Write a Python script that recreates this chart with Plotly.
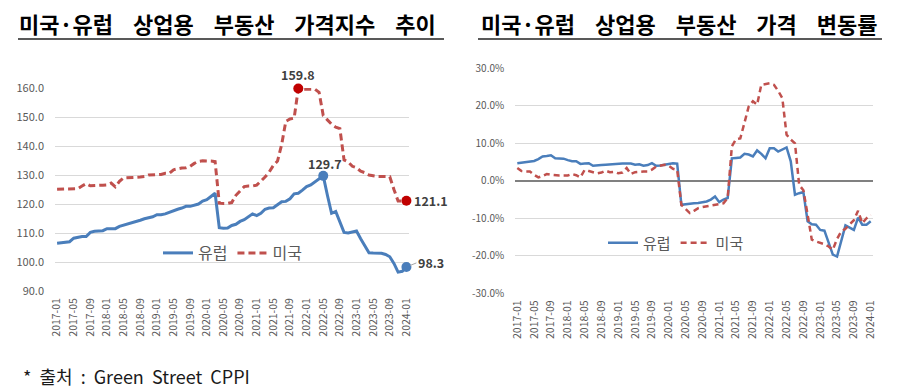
import plotly.graph_objects as go

# ---------------- data ----------------
months = [f"{y}-{m:02d}" for y in range(2017, 2025) for m in range(1, 13)][:85]  # 2017-01 .. 2024-01
tick_labels = months[::4]

# Price index (left)
europe_index = [
    106.5, 106.6, 106.9, 107.0, 108.2, 108.6, 108.8, 108.8, 110.2, 110.6,
    110.8, 110.8, 111.5, 111.5, 111.5, 112.3, 112.7, 113.0, 113.6, 113.8,
    114.4, 114.9, 115.3, 115.6, 116.3, 116.3, 116.6, 117.2, 117.8, 118.2,
    118.6, 119.2, 119.2, 119.6, 120.0, 121.0, 121.5, 122.6, 123.7, 111.8,
    111.6, 111.7, 112.6, 113.0, 114.0, 114.6, 115.5, 116.6, 116.0, 116.8,
    118.2, 118.6, 118.7, 119.6, 120.8, 120.9, 121.8, 123.5, 123.7, 124.8,
    126.0, 126.6, 127.7, 128.6, 129.7, 123.0, 116.8, 117.4, 114.0, 110.2,
    110.0, 110.3, 110.7, 108.0, 105.5, 103.2, 103.1, 103.1, 103.0, 102.6,
    101.8, 99.5, 96.5, 96.8, 98.3,
]
us_index = [
    125.1, 125.1, 125.1, 125.1, 125.1, 125.3, 126.2, 127.0, 126.3, 126.3,
    126.5, 126.5, 126.6, 127.2, 125.9, 127.8, 129.0, 129.0, 129.1, 129.2,
    129.3, 129.5, 130.0, 130.1, 130.1, 130.2, 130.6, 130.6, 131.8, 132.2,
    132.4, 132.5, 133.0, 134.0, 134.7, 134.9, 134.9, 134.8, 134.6, 120.3,
    120.2, 120.2, 120.5, 123.0, 124.5, 126.0, 126.2, 126.2, 126.5, 127.8,
    129.3, 131.0, 133.3, 134.8, 140.5, 148.5, 149.3, 149.6, 159.8, 159.6,
    159.6, 159.6, 159.6, 158.5, 150.5, 149.0, 147.5, 146.5, 146.0, 135.2,
    134.5, 133.0, 132.5, 131.3, 130.8, 130.0, 129.7, 129.5, 129.5, 129.5,
    129.4, 125.0, 121.0, 121.0, 121.1,
]

# Year-on-year change, % (right)
europe_change = [
    4.7, 4.9, 5.0, 5.1, 5.3, 5.8, 6.5, 6.6, 6.8, 6.0,
    6.0, 5.9, 5.5, 5.2, 5.2, 4.5, 4.6, 4.7, 4.0, 4.2,
    4.2, 4.3, 4.4, 4.5, 4.6, 4.6, 4.6, 4.6, 4.3, 4.4,
    4.0, 4.2, 4.7, 4.0, 4.1, 4.4, 4.5, 4.7, 4.6, -6.4,
    -6.2, -6.0, -6.0, -5.9, -5.8, -5.5, -5.0, -4.2, -5.7, -5.0,
    -4.6, 6.0, 6.1, 6.2, 7.2, 7.0, 6.5, 8.1, 7.2, 6.0,
    8.7, 8.7, 7.8, 8.4, 8.9, 5.2, -3.7, -3.3, -3.0, -10.8,
    -11.6, -11.7, -13.1, -13.3, -16.5, -19.7, -20.2, -16.0, -11.9, -12.5,
    -13.1, -9.8, -11.7, -11.7, -10.8,
]
us_change = [
    3.4, 2.6, 2.5, 2.5, 1.6, 0.9, 1.3, 1.8, 1.6, 1.4,
    1.4, 1.4, 1.4, 1.8, 1.5, 0.9, 2.9, 2.6, 2.3, 2.0,
    2.2, 2.7, 2.3, 2.4, 2.0, 2.2, 3.4, 1.8, 2.3, 2.5,
    2.5, 2.5, 3.0, 3.8, 4.0, 4.3, 4.0, 3.2, 2.9, -6.4,
    -7.5, -8.6, -8.0, -7.3, -7.0, -6.8, -6.5, -6.2, -6.2, -6.0,
    -4.6, 9.2, 11.1, 11.3, 15.5, 19.8, 21.2, 20.3, 25.6, 25.8,
    26.0, 25.6, 24.0, 22.0, 12.3, 11.0, 10.0, -1.1, -2.5, -9.0,
    -15.7, -16.2, -16.5, -16.9, -17.5, -18.4, -15.5, -13.5, -12.8, -11.7,
    -10.5, -8.0, -11.3, -10.0, -9.1,
]

SP = "\u00a0" * 4
left_title = f"미국·유럽{SP}상업용{SP}부동산{SP}가격지수{SP}추이"
right_title = f"미국·유럽{SP}상업용{SP}부동산{SP}가격{SP}변동률"
source_text = "*\u00a0\u00a0출처\u00a0\u00a0:\u00a0\u00a0Green\u00a0\u00a0Street\u00a0\u00a0CPPI"
name_eu = "유럽"
name_us = "미국"

# ---------------- style ----------------
W, H = 899, 389
OFF = 8  # page body margin
BLUE = "#4a7ebb"
RED = "#c0504d"
RED_MK = "#c00000"
GRID = "#d9d9d9"
TXT = "#595959"
FONT = "Noto Sans CJK KR"

def px_x(p):
    return (p - OFF) / W

def px_y(p):
    return 1 - (p - OFF) / H

fig = go.Figure()

# left chart
fig.add_trace(go.Scatter(x=months, y=europe_index, name=name_eu, mode="lines",
                         line=dict(color=BLUE, width=3), xaxis="x", yaxis="y", legend="legend"))
fig.add_trace(go.Scatter(x=months, y=us_index, name=name_us, mode="lines",
                         line=dict(color=RED, width=3, dash="7px,4px"), xaxis="x", yaxis="y", legend="legend"))

i_us_max = us_index.index(max(us_index))
i_eu_max = europe_index.index(max(europe_index))
i_last = len(months) - 1
fig.add_trace(go.Scatter(x=[months[i_us_max], months[i_last]], y=[us_index[i_us_max], us_index[i_last]],
                         mode="markers", marker=dict(color=RED_MK, size=10), showlegend=False,
                         cliponaxis=False, xaxis="x", yaxis="y"))
fig.add_trace(go.Scatter(x=[months[i_eu_max], months[i_last]], y=[europe_index[i_eu_max], europe_index[i_last]],
                         mode="markers", marker=dict(color=BLUE, size=10), showlegend=False,
                         cliponaxis=False, xaxis="x", yaxis="y"))

# right chart
fig.add_trace(go.Scatter(x=months, y=europe_change, name=name_eu, mode="lines",
                         line=dict(color=BLUE, width=2.5), xaxis="x2", yaxis="y2", legend="legend2"))
fig.add_trace(go.Scatter(x=months, y=us_change, name=name_us, mode="lines",
                         line=dict(color=RED, width=2.5, dash="6px,4px"), xaxis="x2", yaxis="y2", legend="legend2"))

xcommon = dict(type="category", tickmode="array", tickvals=tick_labels, ticktext=tick_labels,
               tickangle=-90, tickfont=dict(family=FONT, size=10.5, color=TXT),
               showgrid=False, showline=False, ticks="", ticklabelstandoff=4,
               range=[-0.5, len(months) - 0.5], zeroline=False, automargin=False)

fig.update_layout(
    width=W, height=H,
    margin=dict(l=0, r=0, t=0, b=0, pad=0, autoexpand=False),
    paper_bgcolor="white", plot_bgcolor="white",
    font=dict(family=FONT, color=TXT),
    xaxis=dict(domain=[px_x(55), px_x(408.5)], anchor="y", **xcommon),
    yaxis=dict(domain=[px_y(291), px_y(88)], anchor="x", range=[90, 160], dtick=10,
               tickformat=".1f", showgrid=True, gridcolor=GRID, gridwidth=1, zeroline=False,
               tickfont=dict(family=FONT, size=11, color=TXT), ticklabelstandoff=10, automargin=False),
    xaxis2=dict(domain=[px_x(515.2), px_x(872.8)], anchor="y2", **xcommon),
    yaxis2=dict(domain=[px_y(293.3), px_y(68.3)], anchor="x2", range=[-30, 30], dtick=10,
                tickvals=[-30, -20, -10, 0, 10, 20, 30],
                ticktext=["-30.0%", "-20.0%", "-10.0%", "0.0%", "10.0%", "20.0%", "30.0%"],
                showgrid=True, gridcolor=GRID, gridwidth=1,
                zeroline=True, zerolinecolor="#808080", zerolinewidth=1.5,
                tickfont=dict(family=FONT, size=10, color=TXT), ticklabelstandoff=10, automargin=False),
    legend=dict(x=px_x(158), y=px_y(253), xanchor="left", yanchor="middle", orientation="h",
                font=dict(family=FONT, size=16, color=TXT), bgcolor="rgba(0,0,0,0)",
                itemwidth=30, traceorder="normal"),
    legend2=dict(x=px_x(603), y=px_y(243), xanchor="left", yanchor="middle", orientation="h",
                 font=dict(family=FONT, size=15, color=TXT), bgcolor="rgba(0,0,0,0)",
                 itemwidth=30, traceorder="normal"),
    showlegend=True,
)

lab_font = dict(family=FONT, size=12.5, color="#404040")
ann = [
    dict(xref="paper", yref="paper", x=px_x(17), y=px_y(23), xanchor="left", yanchor="middle",
         text="<b>" + left_title + "</b>", showarrow=False, font=dict(family=FONT, size=22, color="#000000")),
    dict(xref="paper", yref="paper", x=px_x(479), y=px_y(23), xanchor="left", yanchor="middle",
         text="<b>" + right_title + "</b>", showarrow=False, font=dict(family=FONT, size=22, color="#000000")),
    dict(xref="paper", yref="paper", x=px_x(22), y=px_y(376), xanchor="left", yanchor="middle",
         text=source_text, showarrow=False, borderpad=0, font=dict(family=FONT, size=18, color="#1a1a1a")),
    dict(xref="x", yref="y", x=months[i_us_max], y=us_index[i_us_max], text=f"<b>{us_index[i_us_max]:.1f}</b>",
         showarrow=False, yshift=14, xanchor="center", yanchor="middle", font=lab_font),
    dict(xref="x", yref="y", x=months[i_eu_max], y=europe_index[i_eu_max], text=f"<b>{europe_index[i_eu_max]:.1f}</b>",
         showarrow=False, yshift=12, xshift=2, xanchor="center", yanchor="middle", font=lab_font),
    dict(xref="x", yref="y", x=months[i_last], y=us_index[i_last], text=f"<b>{us_index[i_last]:.1f}</b>",
         showarrow=False, xshift=6, xanchor="left", yanchor="middle", font=lab_font),
    dict(xref="x", yref="y", x=months[i_last], y=europe_index[i_last], text=f"<b>{europe_index[i_last]:.1f}</b>",
         showarrow=True, arrowhead=0, arrowwidth=1, arrowcolor="#a6a6a6", ax=10, ay=-4,
         xanchor="left", yanchor="middle", standoff=4, font=lab_font),
]
fig.update_layout(annotations=ann)

fig.update_layout(shapes=[
    dict(type="line", xref="paper", yref="paper", x0=px_x(18), x1=px_x(444), y0=px_y(39), y1=px_y(39),
         line=dict(color="#595959", width=2)),
    dict(type="line", xref="paper", yref="paper", x0=px_x(478), x1=px_x(882), y0=px_y(39), y1=px_y(39),
         line=dict(color="#595959", width=2)),
])

fig.write_html("out.html")
